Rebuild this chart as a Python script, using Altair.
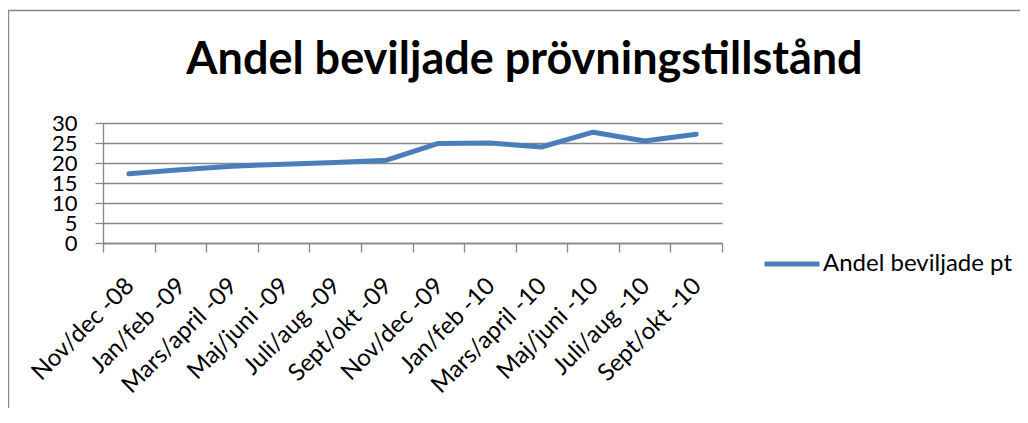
import altair as alt
import pandas as pd

periods = ["Nov/dec -08", "Jan/feb -09", "Mars/april -09", "Maj/juni -09",
           "Juli/aug -09", "Sept/okt -09", "Nov/dec -09", "Jan/feb -10",
           "Mars/april -10", "Maj/juni -10", "Juli/aug -10", "Sept/okt -10"]
values = [17.3, 18.3, 19.2, 19.7, 20.1, 20.7, 24.9, 25.0, 24.0, 27.7, 25.5, 27.2]
series_name = "Andel beviljade pt"
title_text = "Andel beviljade prövningstillstånd"
y_ticks = [0, 5, 10, 15, 20, 25, 30]

FONT = "Lato"
GRAY = "#878787"
BLUE = "#4a7ebb"

df = pd.DataFrame({"period": periods, "value": values, "series": series_name})

line = alt.Chart(df).mark_line(
    strokeWidth=5, strokeCap="round", strokeJoin="round"
).encode(
    x=alt.X("period:N", sort=periods,
            scale=alt.Scale(type="band", paddingInner=0, paddingOuter=0),
            bandPosition=0.5,
            axis=alt.Axis(title=None, grid=False, tickBand="extent",
                          labelAngle=-45, labelAlign="right", labelBaseline="middle",
                          labelFont=FONT, labelFontSize=24, labelColor="black",
                          labelPadding=30, labelOffset=1, tickSize=9, labelOverlap=False,
                          labelLimit=0,
                          domainColor=GRAY, tickColor=GRAY, domainWidth=1.3, tickWidth=1.3)),
    y=alt.Y("value:Q", scale=alt.Scale(domain=[0, 30], nice=False),
            axis=alt.Axis(title=None, values=y_ticks, grid=True, gridColor=GRAY, gridWidth=1.3,
                          labelFont=FONT, labelFontSize=22, labelColor="black",
                          labelOverlap=False,
                          labelPadding=18, tickSize=8, domainColor=GRAY, tickColor=GRAY,
                          domainWidth=1.3, tickWidth=1.3)),
    color=alt.Color("series:N", scale=alt.Scale(range=[BLUE]),
                    legend=alt.Legend(title=None, orient="none", legendX=659, legendY=111,
                                      padding=0, symbolType="stroke", symbolSize=3025,
                                      symbolStrokeWidth=5, labelOffset=1, labelLimit=0,
                                      labelFont=FONT, labelFontSize=24, labelColor="black")),
)

frame = alt.Chart(pd.DataFrame({"f": [0]})).mark_rect(
    fillOpacity=0, stroke=GRAY, strokeWidth=1.3, clip=False
).encode(
    x=alt.value(-94.5), x2=alt.value(1000), y=alt.value(-112.5), y2=alt.value(500)
)

chart = alt.layer(frame, line).properties(
    width=619, height=120,
    padding={"left": 95, "top": 115, "right": 298, "bottom": 165},
    autosize=alt.AutoSizeParams(type="none"),
    title=alt.TitleParams(title_text, font=FONT, fontSize=45, fontWeight="bold",
                          color="black", anchor="middle", frame="group", dx=112,
                          baseline="alphabetic", offset=-109),
).configure_view(stroke=None)

chart.save("out.html", embed_options={"renderer": "svg", "actions": False})
